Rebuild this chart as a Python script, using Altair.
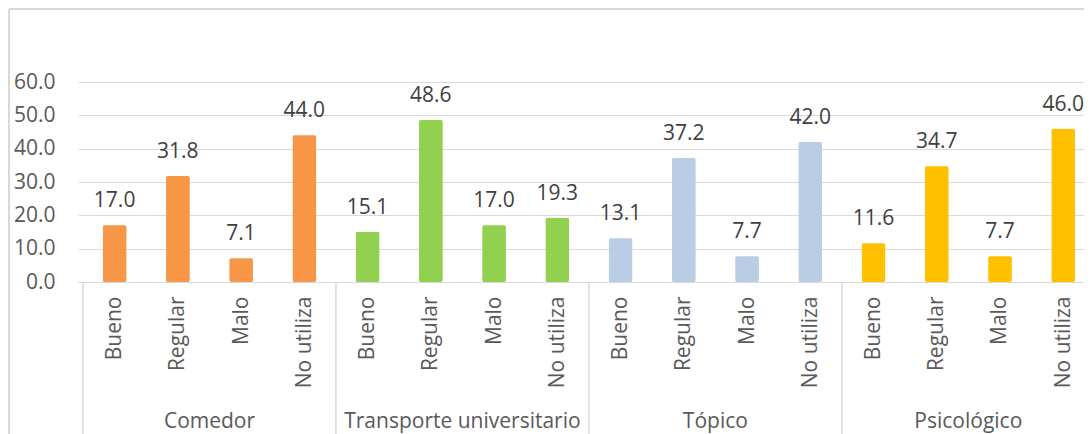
import altair as alt
import pandas as pd

groups = ["Comedor", "Transporte universitario", "Tópico", "Psicológico"]
subcats = ["Bueno", "Regular", "Malo", "No utiliza"]
colors = ["#F79646", "#92D050", "#B9CDE5", "#FFC000"]
comedor = [17.0, 31.8, 7.1, 44.0]
transporte = [15.1, 48.6, 17.0, 19.3]
topico = [13.1, 37.2, 7.7, 42.0]
psicologico = [11.6, 34.7, 7.7, 46.0]
y_ticks = [0, 10, 20, 30, 40, 50, 60]

series = [comedor, transporte, topico, psicologico]
rows = []
for gi, (g, vals) in enumerate(zip(groups, series)):
    for si, (s, v) in enumerate(zip(subcats, vals)):
        idx = gi * len(subcats) + si
        rows.append({"pos": idx + 0.5, "group": g, "sub": s, "value": v})
df = pd.DataFrame(rows)

n = len(groups) * len(subcats)
gdf = pd.DataFrame({"pos": [i * len(subcats) + len(subcats) / 2 for i in range(len(groups))],
                    "group": groups})
sep = pd.DataFrame({"pos": [i * len(subcats) for i in range(len(groups) + 1)]})

W, H = 1006, 200
FONT = "Open Sans"
FS = 21
# the reference's plot area runs past the right edge of the picture
x_max = n - 0.25

label_arr = "[" + ",".join("'" + s + "'" for s in subcats) + "]"

xscale = alt.Scale(domain=[0, x_max], nice=False, zero=False)
yscale = alt.Scale(domain=[0, 60], nice=False)

x_axis = alt.Axis(
    values=[i + 0.5 for i in range(n)],
    labelExpr=label_arr + "[floor(datum.value) % " + str(len(subcats)) + "]",
    labelAngle=270, labelFontSize=FS, labelColor="#595959", labelFont=FONT,
    labelPadding=14, ticks=False, grid=False, domainColor="#D9D9D9", title=None,
    labelOverlap=False, labelBound=False)
y_axis = alt.Axis(
    values=y_ticks, tickCount=len(y_ticks), format=".1f", labelFontSize=FS,
    labelColor="#595959", labelFont=FONT, labelPadding=23, ticks=False, domain=False,
    grid=True, gridColor="#D9D9D9", title=None, labelOverlap=False)

x_enc = alt.X("pos:Q", scale=xscale, axis=x_axis)
y_enc = alt.Y("value:Q", scale=yscale, axis=y_axis)

cscale = alt.Scale(domain=groups, range=colors)
bars = alt.Chart(df).mark_bar(size=23.5, cornerRadius=2, strokeWidth=1.5).encode(
    x=x_enc, y=y_enc,
    color=alt.Color("group:N", scale=cscale, legend=None),
    stroke=alt.Stroke("group:N", scale=cscale, legend=None))

text = alt.Chart(df).mark_text(dy=-18, baseline="alphabetic", fontSize=FS, font=FONT,
                               color="#404040").encode(
    x=x_enc, y=y_enc, text=alt.Text("value:Q", format=".1f"))

glabels = alt.Chart(gdf).mark_text(baseline="alphabetic", fontSize=FS, font=FONT,
                                   color="#595959").encode(
    x=x_enc, y=alt.value(H + 146), text="group:N")

seps = alt.Chart(sep).mark_rule(color="#D9D9D9", strokeWidth=1.5).encode(
    x=x_enc, y=alt.value(H), y2=alt.value(H + 160))

border_left = alt.Chart(gdf).mark_rule(color="#D9D9D9", strokeWidth=1.5).encode(
    x=alt.value(-69), y=alt.value(-73), y2=alt.value(H + 160))
border_top = alt.Chart(gdf).mark_rule(color="#D9D9D9", strokeWidth=1.5).encode(
    x=alt.value(-69), x2=alt.value(W + 20), y=alt.value(-73))

chart = alt.layer(bars, text, glabels, seps, border_left, border_top).properties(
    width=W, height=H,
    background="white",
    autosize=alt.AutoSizeParams(type="none"),
    padding={"left": 70, "top": 74, "right": 0, "bottom": 152},
).configure_view(stroke=None)

chart.save("out.html", embed_options={"renderer": "svg", "actions": False})
